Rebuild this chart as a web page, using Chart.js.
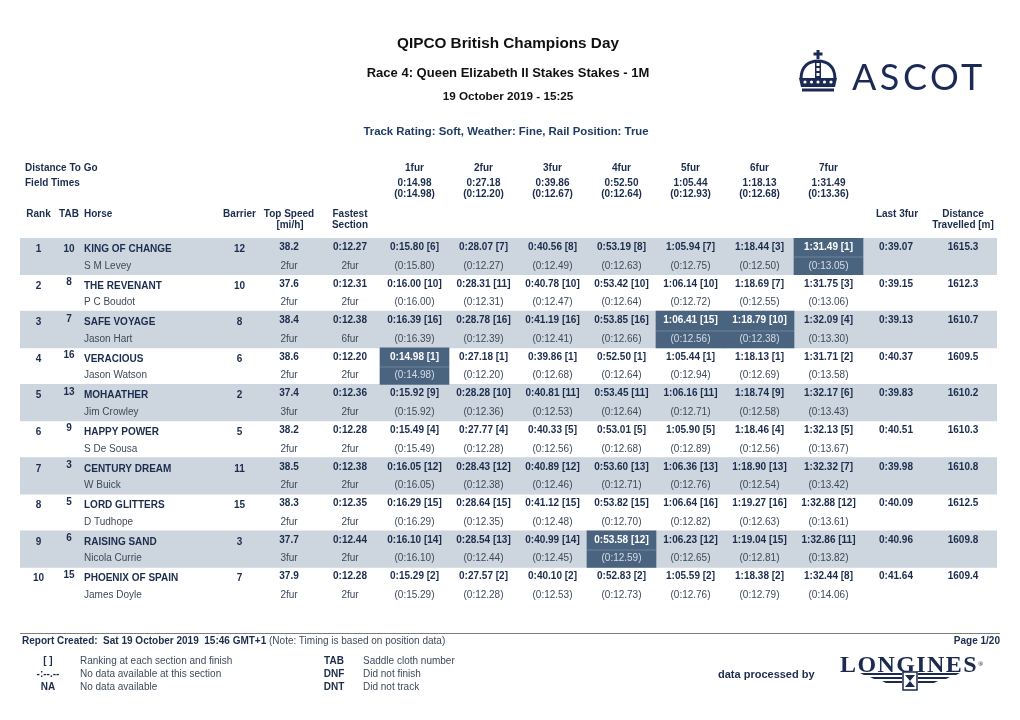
<!DOCTYPE html>
<html>
<head>
<meta charset="utf-8">
<title>QIPCO British Champions Day - Race 4 sectionals</title>
<script src="https://cdn.jsdelivr.net/npm/chart.js"></script>
<style>
body { margin: 0; background: #fff; font-family: "Liberation Sans", Arial, sans-serif; }
#page { position: relative; width: 1020px; height: 720px; overflow: hidden; }
#table { position: absolute; left: 0; top: 0; }
.a { position: absolute; white-space: pre; line-height: 12px; font-size: 10px; }
.c { left: 0; width: 1016px; text-align: center; font-weight: bold; color: #111; line-height: 20px; }
.b { font-weight: bold; color: #1b2c4d; }
.g { color: #3e4a5a; }
.m { text-align: center; width: 40px; }
</style>
</head>
<body>
<div id="page">
<canvas id="table" width="1020" height="720"></canvas>

<div class="a c" style="top:33px;font-size:15.3px">QIPCO British Champions Day</div>
<div class="a c" style="top:63px;font-size:13px">Race 4: Queen Elizabeth II Stakes Stakes - 1M</div>
<div class="a c" style="top:86px;font-size:11.7px">19 October 2019 - 15:25</div>
<div class="a c" style="top:121px;font-size:11.4px;width:1012px;color:#1f3c64">Track Rating: Soft, Weather: Fine, Rail Position: True</div>

<svg class="a" style="left:797px;top:50px" width="42" height="42" viewBox="0 0 42 42">
  <g fill="#1b2a55">
    <rect x="19.5" y="0" width="3" height="9"/>
    <rect x="16.5" y="2.5" width="9" height="3"/>
    <rect x="18" y="10" width="6" height="18"/>
  </g>
  <path d="M4 29 C4 16 12 11 21 11 C30 11 38 16 38 29" fill="none" stroke="#1b2a55" stroke-width="3"/>
  <g fill="#fff"><rect x="19.5" y="13" width="3" height="3"/><rect x="19.5" y="18" width="3" height="3"/><rect x="19.5" y="23" width="3" height="3"/></g>
  <path d="M2 28 L40 28 L38 37 L4 37 Z" fill="#1b2a55"/>
  <g fill="#fff"><circle cx="8" cy="32" r="1.6"/><circle cx="14.5" cy="32" r="1.6"/><circle cx="21" cy="32" r="1.6"/><circle cx="27.5" cy="32" r="1.6"/><circle cx="34" cy="32" r="1.6"/></g>
  <rect x="5" y="38.5" width="32" height="3" fill="#1b2a55"/>
</svg>
<div class="a" style="left:852px;top:58px;font:400 36px Lato, 'Noto Sans', sans-serif;letter-spacing:3.5px;color:#1b2a55;line-height:36px">ASCOT</div>

<div class="a" style="left:20px;top:633px;width:980px;height:1px;background:#7d7d7d"></div>
<div class="a" style="left:22px;top:635px"><span class="b">Report Created:  Sat 19 October 2019  15:46 GMT+1</span><span class="g"> (Note: Timing is based on position data)</span></div>
<div class="a b" style="right:20px;top:635px">Page 1/20</div>

<div class="a b m" style="left:28px;top:655px">[ ]</div>
<div class="a b m" style="left:28px;top:668px">-:--.--</div>
<div class="a b m" style="left:28px;top:681px">NA</div>
<div class="a g" style="left:80px;top:655px">Ranking at each section and finish</div>
<div class="a g" style="left:80px;top:668px">No data available at this section</div>
<div class="a g" style="left:80px;top:681px">No data available</div>
<div class="a b m" style="left:314px;top:655px">TAB</div>
<div class="a b m" style="left:314px;top:668px">DNF</div>
<div class="a b m" style="left:314px;top:681px">DNT</div>
<div class="a g" style="left:363px;top:655px">Saddle cloth number</div>
<div class="a g" style="left:363px;top:668px">Did not finish</div>
<div class="a g" style="left:363px;top:681px">Did not track</div>
<div class="a b" style="left:718px;top:668px;font-size:11px">data processed by</div>

<div class="a" style="left:840px;top:652px;font:bold 24px 'Liberation Serif', serif;letter-spacing:1.4px;color:#1b2a4e;line-height:24px">LONGINES<span style="font-size:7px;vertical-align:top">®</span></div>
<svg class="a" style="left:860px;top:671px" width="100" height="20" viewBox="0 0 100 20">
  <g fill="#1b2a4e">
    <path d="M0 2 L42 2 L42 4 L4 4 Z"/>
    <path d="M10 6 L42 6 L42 8 L14 8 Z"/>
    <path d="M22 10 L42 10 L42 12 L26 12 Z"/>
    <path d="M100 2 L58 2 L58 4 L96 4 Z"/>
    <path d="M90 6 L58 6 L58 8 L86 8 Z"/>
    <path d="M78 10 L58 10 L58 12 L74 12 Z"/>
    <rect x="43" y="1" width="14" height="18" fill="none" stroke="#1b2a4e" stroke-width="1.5"/>
    <path d="M45 4 L55 4 L50 10 L55 16 L45 16 L50 10 Z"/>
  </g>
</svg>
</div>

<script>
// race data (page 1 of the sectional report)
const ranks = [1, 2, 3, 4, 5, 6, 7, 8, 9, 10];
const tabs = [10, 8, 7, 16, 13, 9, 3, 5, 6, 15];
const horses = ['KING OF CHANGE', 'THE REVENANT', 'SAFE VOYAGE', 'VERACIOUS', 'MOHAATHER',
  'HAPPY POWER', 'CENTURY DREAM', 'LORD GLITTERS', 'RAISING SAND', 'PHOENIX OF SPAIN'];
const jockeys = ['S M Levey', 'P C Boudot', 'Jason Hart', 'Jason Watson', 'Jim Crowley',
  'S De Sousa', 'W Buick', 'D Tudhope', 'Nicola Currie', 'James Doyle'];
const barriers = [12, 10, 8, 6, 2, 5, 11, 15, 3, 7];
const topSpeeds = ['38.2', '37.6', '38.4', '38.6', '37.4', '38.2', '38.5', '38.3', '37.7', '37.9'];
const topSpeedAt = ['2fur', '2fur', '2fur', '2fur', '3fur', '2fur', '2fur', '2fur', '3fur', '2fur'];
const fastestSection = ['0:12.27', '0:12.31', '0:12.38', '0:12.20', '0:12.36', '0:12.28', '0:12.38', '0:12.35', '0:12.44', '0:12.28'];
const fastestAt = ['2fur', '2fur', '6fur', '2fur', '2fur', '2fur', '2fur', '2fur', '2fur', '2fur'];

const sections = ['1fur', '2fur', '3fur', '4fur', '5fur', '6fur', '7fur'];
const fieldTimes = ['0:14.98', '0:27.18', '0:39.86', '0:52.50', '1:05.44', '1:18.13', '1:31.49'];
const fieldSplits = ['0:14.98', '0:12.20', '0:12.67', '0:12.64', '0:12.93', '0:12.68', '0:13.36'];

const cumTimes = [
  ['0:15.80', '0:28.07', '0:40.56', '0:53.19', '1:05.94', '1:18.44', '1:31.49'],
  ['0:16.00', '0:28.31', '0:40.78', '0:53.42', '1:06.14', '1:18.69', '1:31.75'],
  ['0:16.39', '0:28.78', '0:41.19', '0:53.85', '1:06.41', '1:18.79', '1:32.09'],
  ['0:14.98', '0:27.18', '0:39.86', '0:52.50', '1:05.44', '1:18.13', '1:31.71'],
  ['0:15.92', '0:28.28', '0:40.81', '0:53.45', '1:06.16', '1:18.74', '1:32.17'],
  ['0:15.49', '0:27.77', '0:40.33', '0:53.01', '1:05.90', '1:18.46', '1:32.13'],
  ['0:16.05', '0:28.43', '0:40.89', '0:53.60', '1:06.36', '1:18.90', '1:32.32'],
  ['0:16.29', '0:28.64', '0:41.12', '0:53.82', '1:06.64', '1:19.27', '1:32.88'],
  ['0:16.10', '0:28.54', '0:40.99', '0:53.58', '1:06.23', '1:19.04', '1:32.86'],
  ['0:15.29', '0:27.57', '0:40.10', '0:52.83', '1:05.59', '1:18.38', '1:32.44']
];
const posRanks = [
  [6, 7, 8, 8, 7, 3, 1], [10, 11, 10, 10, 10, 7, 3], [16, 16, 16, 16, 15, 10, 4],
  [1, 1, 1, 1, 1, 1, 2], [9, 10, 11, 11, 11, 9, 6], [4, 4, 5, 5, 5, 4, 5],
  [12, 12, 12, 13, 13, 13, 7], [15, 15, 15, 15, 16, 16, 12], [14, 13, 14, 12, 12, 15, 11],
  [2, 2, 2, 2, 2, 2, 8]
];
const splits = [
  ['0:15.80', '0:12.27', '0:12.49', '0:12.63', '0:12.75', '0:12.50', '0:13.05'],
  ['0:16.00', '0:12.31', '0:12.47', '0:12.64', '0:12.72', '0:12.55', '0:13.06'],
  ['0:16.39', '0:12.39', '0:12.41', '0:12.66', '0:12.56', '0:12.38', '0:13.30'],
  ['0:14.98', '0:12.20', '0:12.68', '0:12.64', '0:12.94', '0:12.69', '0:13.58'],
  ['0:15.92', '0:12.36', '0:12.53', '0:12.64', '0:12.71', '0:12.58', '0:13.43'],
  ['0:15.49', '0:12.28', '0:12.56', '0:12.68', '0:12.89', '0:12.56', '0:13.67'],
  ['0:16.05', '0:12.38', '0:12.46', '0:12.71', '0:12.76', '0:12.54', '0:13.42'],
  ['0:16.29', '0:12.35', '0:12.48', '0:12.70', '0:12.82', '0:12.63', '0:13.61'],
  ['0:16.10', '0:12.44', '0:12.45', '0:12.59', '0:12.65', '0:12.81', '0:13.82'],
  ['0:15.29', '0:12.28', '0:12.53', '0:12.73', '0:12.76', '0:12.79', '0:14.06']
];
const last3 = ['0:39.07', '0:39.15', '0:39.13', '0:40.37', '0:39.83', '0:40.51', '0:39.98', '0:40.09', '0:40.96', '0:41.64'];
const distances = [1615.3, 1612.3, 1610.7, 1609.5, 1610.2, 1610.3, 1610.8, 1612.5, 1609.8, 1609.4];
// fastest split of each section: [row, section]
const bestCells = [[0, 6], [2, 4], [2, 5], [3, 0], [8, 3]];

// column layout in x-scale units (scale runs 0..977 across the table)
const TABLE_W = 977;
const SEC_LEFT = 360, SEC_W = 69;
const col = { rank: 18.5, tab: 49, horse: 64, barrier: 219.5, speed: 269, fastest: 330, last3: 876, dist: 943 };
const secMid = k => SEC_LEFT + SEC_W * k + SEC_W / 2;

const NAVY = '#1b2c4d', GREY = '#3e4a5a';
const FONT = '"Liberation Sans", Arial, sans-serif';

function txt(ctx, s, x, y, align, bold, color) {
  ctx.font = (bold ? 'bold ' : '') + '10px ' + FONT;
  ctx.textAlign = align;
  ctx.fillStyle = color;
  ctx.fillText(s, x, y);
}

const tableText = {
  id: 'tableText',
  afterDatasetsDraw(chart) {
    const { ctx, chartArea } = chart;
    const xs = chart.scales.x, ys = chart.scales.y;
    const X = v => xs.getPixelForValue(v);
    const top = chartArea.top;
    ctx.save();
    ctx.textBaseline = 'middle';

    // header block
    txt(ctx, 'Distance To Go', X(5), top - 70, 'left', true, NAVY);
    txt(ctx, 'Field Times', X(5), top - 55, 'left', true, NAVY);
    sections.forEach((s, k) => {
      txt(ctx, s, X(secMid(k)), top - 70, 'center', true, NAVY);
      txt(ctx, fieldTimes[k], X(secMid(k)), top - 55, 'center', true, NAVY);
      txt(ctx, '(' + fieldSplits[k] + ')', X(secMid(k)), top - 43.5, 'center', true, NAVY);
    });
    txt(ctx, 'Rank', X(col.rank), top - 24, 'center', true, NAVY);
    txt(ctx, 'TAB', X(col.tab), top - 24, 'center', true, NAVY);
    txt(ctx, 'Horse', X(col.horse), top - 24, 'left', true, NAVY);
    txt(ctx, 'Barrier', X(col.barrier), top - 24, 'center', true, NAVY);
    txt(ctx, 'Top Speed', X(col.speed), top - 24, 'center', true, NAVY);
    txt(ctx, '[mi/h]', X(col.speed + 1), top - 12.5, 'center', true, NAVY);
    txt(ctx, 'Fastest', X(col.fastest), top - 24, 'center', true, NAVY);
    txt(ctx, 'Section', X(col.fastest), top - 12.5, 'center', true, NAVY);
    txt(ctx, 'Last 3fur', X(col.last3 + 1), top - 24, 'center', true, NAVY);
    txt(ctx, 'Distance', X(col.dist), top - 24, 'center', true, NAVY);
    txt(ctx, 'Travelled [m]', X(col.dist), top - 12.5, 'center', true, NAVY);

    // rows
    horses.forEach((h, i) => {
      const yc = ys.getPixelForValue(i);
      const yt = yc - 7, yv = yc - 9, yb = yc + 9.5;
      txt(ctx, String(ranks[i]), X(col.rank), yt, 'center', true, NAVY);
      txt(ctx, String(tabs[i]), X(col.tab), i === 0 ? yt : yt - 3.6, 'center', true, NAVY);
      txt(ctx, h, X(col.horse), yt, 'left', true, NAVY);
      txt(ctx, jockeys[i], X(col.horse), yb, 'left', false, GREY);
      txt(ctx, String(barriers[i]), X(col.barrier), yt, 'center', true, NAVY);
      txt(ctx, topSpeeds[i], X(col.speed), yv, 'center', true, NAVY);
      txt(ctx, topSpeedAt[i], X(col.speed), yb, 'center', false, GREY);
      txt(ctx, fastestSection[i], X(col.fastest), yv, 'center', true, NAVY);
      txt(ctx, fastestAt[i], X(col.fastest), yb, 'center', false, GREY);
      sections.forEach((s, k) => {
        const best = bestCells.some(c => c[0] === i && c[1] === k);
        if (best) {
          ctx.fillStyle = '#6d8298';
          ctx.fillRect(X(SEC_LEFT + SEC_W * k), Math.round(yc) + 0.5, SEC_W, 1);
        }
        txt(ctx, cumTimes[i][k] + ' [' + posRanks[i][k] + ']', X(secMid(k)), yv, 'center', true, best ? '#ffffff' : NAVY);
        txt(ctx, '(' + splits[i][k] + ')', X(secMid(k)), yb, 'center', false, best ? '#d6dde6' : GREY);
      });
      txt(ctx, last3[i], X(col.last3), yv, 'center', true, NAVY);
      txt(ctx, distances[i].toFixed(1), X(col.dist), yv, 'center', true, NAVY);
    });
    ctx.restore();
  }
};

new Chart(document.getElementById('table'), {
  type: 'bar',
  data: {
    labels: horses,
    datasets: [
      {
        label: 'Fastest section',
        data: bestCells.map(c => ({ y: horses[c[0]], x: [SEC_LEFT + SEC_W * c[1], SEC_LEFT + SEC_W * (c[1] + 1)] })),
        backgroundColor: '#4a6480'
      },
      {
        label: 'Row band',
        data: horses.map((h, i) => i % 2 === 0 ? [0, TABLE_W] : null),
        backgroundColor: '#cdd5de'
      }
    ]
  },
  options: {
    indexAxis: 'y',
    responsive: false,
    animation: false,
    devicePixelRatio: 1,
    layout: { padding: { left: 20, right: 23, top: 238, bottom: 116 } },
    datasets: { bar: { grouped: false, barPercentage: 1, categoryPercentage: 1, borderWidth: 0 } },
    scales: {
      x: { type: 'linear', min: 0, max: TABLE_W, display: false },
      y: { type: 'category', offset: true, display: false }
    },
    plugins: { legend: { display: false }, tooltip: { enabled: false }, title: { display: false } }
  },
  plugins: [tableText]
});
</script>
</body>
</html>
